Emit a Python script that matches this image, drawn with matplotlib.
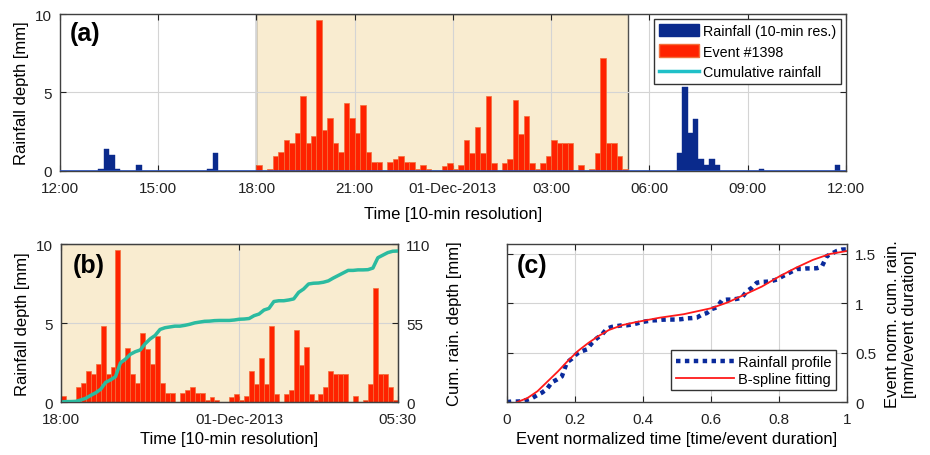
import numpy as np
import pandas as pd
import matplotlib
matplotlib.use("Agg")
import matplotlib.pyplot as plt
import matplotlib.dates as mdates
from matplotlib.patches import Patch, Rectangle
from matplotlib.lines import Line2D

plt.rcParams['font.family'] = ['Liberation Sans', 'DejaVu Sans']

# event #1398: 10-min rainfall depths [mm], starting 30-Nov-2013 18:00
event_start = "2013-11-30 18:00"
event_rain = [0.38, 0, 0.15, 0.97, 1.18, 2.0, 1.8, 2.4, 4.8, 1.8,
              2.2, 9.6, 2.6, 3.4, 1.8, 1.2, 4.35, 3.35, 2.4, 4.2,
              1.2, 0.55, 0.55, 0, 0.55, 0.75, 0.97, 0.55, 0.55, 0.12,
              0.35, 0.12, 0, 0, 0.32, 0.53, 0.15, 0.36, 1.98, 1.13,
              2.8, 1.13, 4.8, 0.53, 0, 0.53, 0.74, 4.55, 2.34, 3.5,
              0.53, 0.15, 0.53, 0.96, 1.98, 1.77, 1.77, 1.77, 0, 0.36,
              0, 0.15, 1.13, 7.2, 1.77, 1.77, 0.96, 0.15]

# rainfall outside the event (10-min res.)
other_times = ["2013-11-30 13:10", "2013-11-30 13:20", "2013-11-30 13:30",
               "2013-11-30 13:40", "2013-11-30 14:20", "2013-11-30 16:30",
               "2013-11-30 16:40", "2013-12-01 06:50", "2013-12-01 07:00",
               "2013-12-01 07:10", "2013-12-01 07:20", "2013-12-01 07:30",
               "2013-12-01 07:40", "2013-12-01 07:50", "2013-12-01 08:00",
               "2013-12-01 09:20", "2013-12-01 11:40"]
other_rain = [0.1, 1.38, 1.0, 0.1, 0.36, 0.1, 1.17, 1.13, 5.38,
              2.4, 3.34, 0.74, 0.36, 0.74, 0.36, 0.1, 0.36]

window = ["2013-11-30 12:00", "2013-12-01 12:00"]
a_ticks = ["2013-11-30 12:00", "2013-11-30 15:00", "2013-11-30 18:00",
           "2013-11-30 21:00", "2013-12-01 00:00", "2013-12-01 03:00",
           "2013-12-01 06:00", "2013-12-01 09:00", "2013-12-01 12:00"]
a_labels = ["12:00", "15:00", "18:00", "21:00", "01-Dec-2013",
            "03:00", "06:00", "09:00", "12:00"]
b_labels = ["18:00", "01-Dec-2013", "05:30"]

# B-spline fit of the normalized profile
spline_t = [0.03, 0.06, 0.09, 0.12, 0.15, 0.18, 0.21, 0.24, 0.27, 0.30,
            0.34, 0.38, 0.45, 0.52, 0.60, 0.65, 0.70, 0.75, 0.80, 0.85,
            0.90, 0.95, 1.0]
spline_y = [0.0, 0.04, 0.11, 0.21, 0.31, 0.42, 0.52, 0.60, 0.67, 0.73,
            0.78, 0.81, 0.855, 0.89, 0.95, 1.01, 1.09, 1.17, 1.27, 1.36,
            1.44, 1.50, 1.53]

RED = '#ff2200'
REDEDGE = '#f2703c'
BLUE = '#0a2a8c'
TEAL = '#2bbba0'
BEIGE = '#f9ecd0'
SPINE = '#404040'

ten_min = pd.Timedelta("10min")
ev_t = pd.date_range(event_start, periods=len(event_rain), freq="10min")
ev_x = mdates.date2num(ev_t)
ev_end = mdates.date2num(ev_t[-1] + ten_min)
ot_x = mdates.date2num(pd.to_datetime(other_times))
w = 1.0 / 144
cum = np.concatenate([[0], np.cumsum(event_rain)])
cum_x = np.concatenate([[ev_x[0]], ev_x + w])


def style(ax):
    for s in ax.spines.values():
        s.set_color(SPINE)
        s.set_linewidth(1.0)
    ax.tick_params(direction='in', length=4, colors='#222222', labelsize=11,
                   top=True, right=True)
    ax.tick_params(axis='x', pad=7)
    ax.tick_params(axis='y', pad=6)
    ax.grid(True, color='#d4d4d4', lw=0.8)
    ax.set_axisbelow(True)


fig = plt.figure(figsize=(9.3, 4.56), dpi=100)

# ---- (a)
ax = fig.add_axes([0.0645, 0.623, 0.845, 0.344])
style(ax)
ax.bar(ot_x, other_rain, width=w, align='edge', color=BLUE, edgecolor=BLUE, lw=0.3)
ax.add_patch(Rectangle((ev_x[0], 0), ev_end - ev_x[0], 10, facecolor=BEIGE,
                       edgecolor='#505050', lw=1.0, zorder=0.5))
ax.bar(ev_x, event_rain, width=w, align='edge', color=RED, edgecolor=REDEDGE, lw=0.5, zorder=2)
ax.axhline(0, color='#2a50b8', lw=1.2, zorder=3)
ax.set_xlim(mdates.date2num(pd.to_datetime(window)))
ax.set_ylim(0, 10)
ax.set_yticks([0, 5, 10])
ax.set_xticks(mdates.date2num(pd.to_datetime(a_ticks)))
ax.set_xticklabels(a_labels)
ax.set_ylabel("Rainfall depth [mm]", fontsize=12, labelpad=4)
ax.set_xlabel("Time [10-min resolution]", fontsize=12, labelpad=8)
ax.text(0.012, 0.88, "(a)", transform=ax.transAxes, fontsize=18,
        fontweight='bold', va='center')
handles = [Patch(facecolor=BLUE, edgecolor=BLUE),
           Patch(facecolor=RED, edgecolor=REDEDGE),
           Line2D([], [], color='#1fc0c8', lw=2.5)]
leg = ax.legend(handles, ["Rainfall (10-min res.)", "Event #1398", "Cumulative rainfall"],
                loc='upper right', bbox_to_anchor=(0.997, 0.985), fontsize=10.3,
                fancybox=False, framealpha=1, edgecolor='#333333',
                handlelength=2.8, handleheight=1.0, borderpad=0.3,
                labelspacing=0.45, handletextpad=0.3, borderaxespad=0.2)
leg.get_frame().set_linewidth(1.0)
leg.set_zorder(5)

# ---- (b)
bx = fig.add_axes([0.0656, 0.116, 0.362, 0.3465])
style(bx)
bx.set_facecolor(BEIGE)
bx.bar(ev_x, event_rain, width=w, align='edge', color=RED, edgecolor=REDEDGE, lw=0.5)
bx.set_xlim(ev_x[0], ev_end)
bx.set_ylim(0, 10)
bx.set_yticks([0, 5, 10])
bx.set_xticks([ev_x[0], mdates.date2num(pd.Timestamp("2013-12-01 00:00")), ev_end])
bx.set_xticklabels(b_labels)
bx.tick_params(right=False)
bx.set_ylabel("Rainfall depth [mm]", fontsize=12, labelpad=4)
bx.set_xlabel("Time [10-min resolution]", fontsize=12, labelpad=4)
bx.text(0.035, 0.87, "(b)", transform=bx.transAxes, fontsize=18,
        fontweight='bold', va='center')
bx2 = bx.twinx()
bx2.plot(cum_x, cum, color=TEAL, lw=2.5)
bx2.set_ylim(0, 110)
bx2.set_yticks([0, 55, 110])
bx2.tick_params(direction='in', length=4, labelsize=11, colors='#222222', pad=6)
bx2.set_ylabel("Cum. rain. depth [mm]", fontsize=12, labelpad=12)
for s in bx2.spines.values():
    s.set_color(SPINE)

# ---- (c)
n = len(event_rain)
prof_t = np.arange(n + 1) / n
prof_y = cum / n
cx = fig.add_axes([0.545, 0.116, 0.3656, 0.3465])
style(cx)
cx.plot(prof_t, prof_y, color='#0a2a9c', lw=3.2, linestyle=(0, (1, 1)),
        label="Rainfall profile")
cx.plot(spline_t, spline_y, color='#ff1a1a', lw=1.3, label="B-spline fitting")
cx.set_xlim(0, 1)
cx.set_ylim(0, 1.6)
cx.set_xticks([0, 0.2, 0.4, 0.6, 0.8, 1])
cx.set_xticklabels(["0", "0.2", "0.4", "0.6", "0.8", "1"])
cx.set_yticks([0, 0.5, 1, 1.5])
cx.set_yticklabels(["0", "0.5", "1", "1.5"])
cx.yaxis.tick_right()
cx.tick_params(left=True, right=True, labelleft=False, labelright=True)
cx.yaxis.set_label_position('right')
cx.set_ylabel("Event norm. cum. rain.\n[mm/event duration]", fontsize=12,
              labelpad=6)
cx.set_xlabel("Event normalized time [time/event duration]", fontsize=12, labelpad=4)
cx.text(0.03, 0.87, "(c)", transform=cx.transAxes, fontsize=18,
        fontweight='bold', va='center')
leg2 = cx.legend(loc='lower right', bbox_to_anchor=(0.99, 0.03), fontsize=10.5,
                 fancybox=False, framealpha=1, edgecolor='#333333',
                 handlelength=4.0, borderpad=0.3, labelspacing=0.2,
                 handletextpad=0.3)
leg2.get_frame().set_linewidth(1.0)

fig.savefig("out.png", dpi=100)
